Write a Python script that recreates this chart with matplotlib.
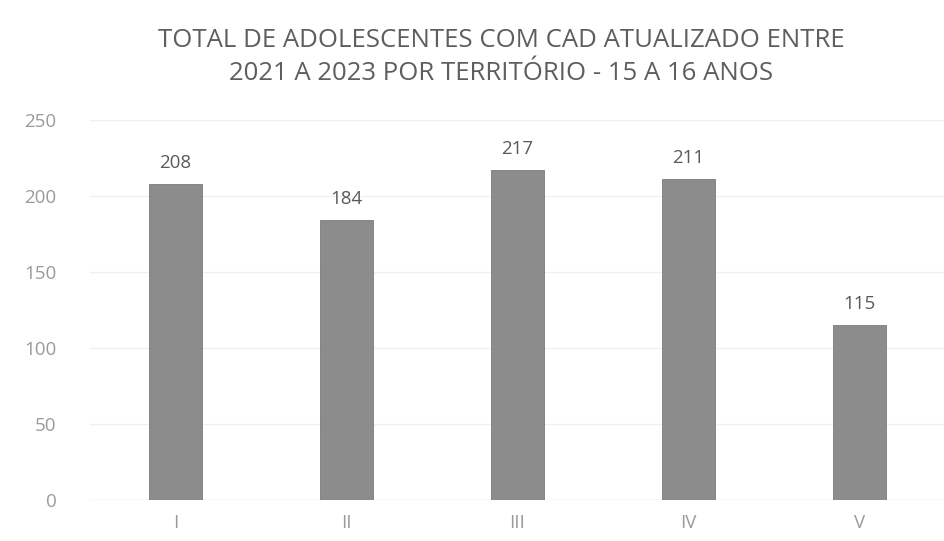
import matplotlib
matplotlib.use("Agg")
import matplotlib.pyplot as plt

# territorios e totais (15 a 16 anos)
territorios = ["I", "II", "III", "IV", "V"]
totais = [208, 184, 217, 211, 115]
yticks = [0, 50, 100, 150, 200, 250]

plt.rcParams['font.family'] = ['Open Sans', 'DejaVu Sans']

fig = plt.figure(figsize=(9.45, 5.41), dpi=100)
ax = fig.add_axes([0.095, 0.076, 0.905, 0.702])

x = range(len(territorios))
bars = ax.bar(x, totais, width=0.31, color='#8c8c8c', edgecolor='#7a7a7a', linewidth=0.6, zorder=3)
for b, v in zip(bars, totais):
    ax.text(b.get_x() + b.get_width() / 2, v + 8, str(v), ha='center', va='bottom',
            fontsize=13.5, color='#5a5a5a')

ax.set_ylim(0, 250)
ax.set_xlim(-0.5, len(territorios) - 0.5)
ax.set_yticks(yticks)
ax.set_xticks(list(x))
ax.set_xticklabels(territorios)
ax.tick_params(axis='x', length=0, colors='#9a9a9a', labelsize=13.5, pad=10)
ax.tick_params(axis='y', length=0, colors='#9a9a9a', labelsize=13.5, pad=24)
ax.yaxis.grid(True, color='#f0f0f0', linewidth=1, zorder=0)
for s in ax.spines.values():
    s.set_visible(False)
ax.axhline(0, color='#eeeeee', linewidth=1, zorder=1)

fig.text(0.53, 0.895, "TOTAL DE ADOLESCENTES COM CAD ATUALIZADO ENTRE\n2021 A 2023 POR TERRITÓRIO - 15 A 16 ANOS",
         ha='center', va='center', fontsize=18.5, color='#5e5e5e', linespacing=1.4)

fig.savefig("out.png", dpi=100)
